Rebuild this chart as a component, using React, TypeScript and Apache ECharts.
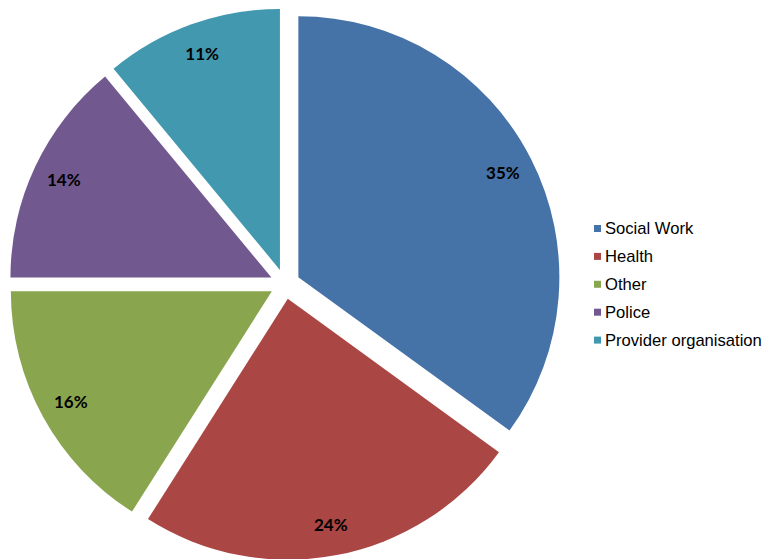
import React, { useEffect, useRef } from "react";
import * as echarts from "echarts";

const categories = ["Social Work", "Health", "Other", "Police", "Provider organisation"];
const values = [35, 24, 16, 14, 11];
const colors = ["#4572A7", "#AA4643", "#89A54E", "#71588F", "#4198AF"];

export default function App() {
  const ref = useRef<HTMLDivElement>(null);
  useEffect(() => {
    if (!ref.current) return;
    const chart = echarts.init(ref.current, undefined, { renderer: "svg" });
    const data = categories.map((name, i) => ({
      name,
      value: values[i],
      selected: true,
      itemStyle: { color: colors[i] },
    }));
    const labelData = categories.map((name, i) => ({
      name,
      value: values[i],
      selected: true,
      itemStyle: { color: "rgba(0,0,0,0)" },
    }));
    chart.setOption({
      animation: false,
      color: colors,
      legend: {
        orient: "vertical",
        left: 594,
        top: 220,
        padding: 0,
        itemWidth: 7,
        itemHeight: 7,
        itemGap: 10.9,
        icon: "rect",
        data: categories,
        textStyle: {
          fontFamily: "Liberation Sans, Arial, sans-serif",
          fontSize: 16.6,
          lineHeight: 16.5,
          color: "#000",
          padding: [0, 0, 0, -1],
        },
      },
      series: [
        {
          type: "pie",
          center: [285, 284],
          radius: [0, 261],
          startAngle: 90,
          clockwise: true,
          selectedMode: "multiple",
          selectedOffset: 15,
          label: { show: false },
          labelLine: { show: false },
          emphasis: { disabled: true },
          data,
        },
        {
          type: "pie",
          center: [285, 284],
          radius: [192, 261],
          startAngle: 90,
          clockwise: true,
          silent: true,
          selectedMode: "multiple",
          selectedOffset: 15,
          label: {
            show: true,
            position: "inside",
            formatter: (p: any) => p.value + "%",
            fontFamily: "Lato, sans-serif",
            fontWeight: "bold",
            fontSize: 17,
            color: "#000",
          },
          labelLine: { show: false },
          emphasis: { disabled: true },
          data: labelData,
        },
      ],
    });
    return () => chart.dispose();
  }, []);
  return (
    <div
      ref={ref}
      style={{ position: "fixed", left: 0, top: 0, width: 766, height: 559, background: "#fff" }}
    />
  );
}
